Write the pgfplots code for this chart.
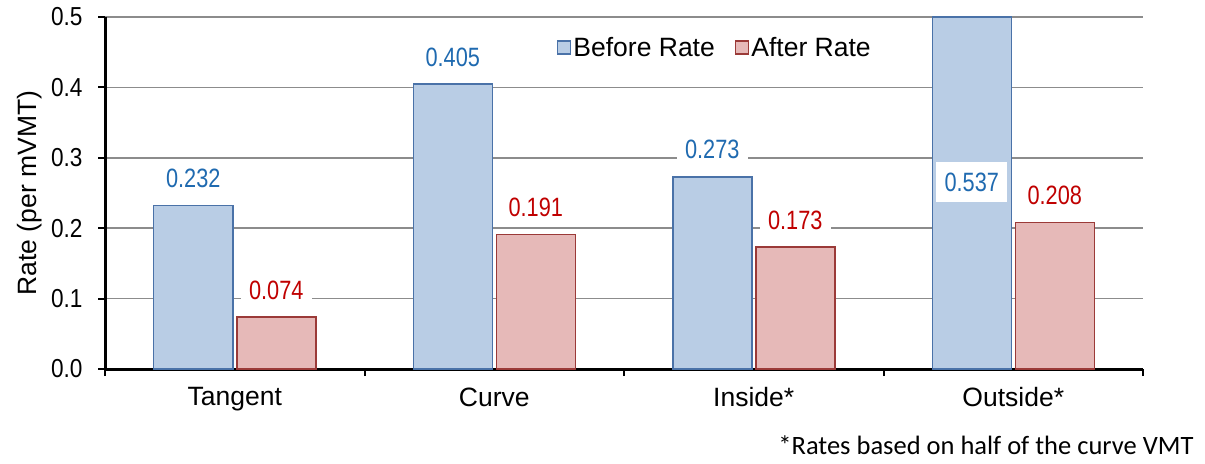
\documentclass[border=0pt]{standalone}
\usepackage{pgfplots}
\usepackage{pgfplotstable}
\pgfplotsset{compat=1.18}
\usepackage{fontspec}
\setmainfont{Liberation Sans}
\newfontfamily\calibri{Carlito}
\newfontfamily\dlfont[FakeStretch=0.82]{Liberation Sans}
\newfontfamily\tkfont[FakeStretch=0.87]{Liberation Sans}
\definecolor{bfill}{HTML}{B9CDE5}
\definecolor{bdraw}{HTML}{4A72A8}
\definecolor{rfill}{HTML}{E6B9B8}
\definecolor{rdraw}{HTML}{9B3A38}
\definecolor{blab}{HTML}{1F6AB0}
\definecolor{rlab}{HTML}{C00000}
\definecolor{gridc}{HTML}{8C8C8C}

\pgfplotstableread{
x before dy
0 0.232 27
1 0.405 27
2 0.273 27
3 0.537 -165
}\beforetab
\pgfplotstableread{
x after dy
0 0.074 27
1 0.191 27
2 0.173 27
3 0.208 27
}\aftertab

\begin{document}
\begin{tikzpicture}
\begin{axis}[name=ax, scale only axis, width=1038pt, height=352pt,
  ybar=4pt, bar width=79pt, clip=false,
  xmin=-0.5, xmax=3.5, ymin=0, ymax=0.5,
  restrict y to domain*=0:0.5,
  axis x line*=bottom, axis y line*=left,
  axis line style={line width=3pt, black},
  xtick={-0.5,0.5,1.5,2.5,3.5}, xticklabels={},
  extra x ticks={0,1,2,3},
  extra x tick labels={Tangent,Curve,Inside*,Outside*},
  extra x tick style={major tick length=0pt, grid=none},
  ytick={0,0.1,0.2,0.3,0.4,0.5},
  tick align=outside, major tick length=7pt,
  tick style={black, line width=2pt},
  ymajorgrids, grid style={gridc, line width=1.5pt},
  yticklabel style={font=\tkfont\fontsize{26}{30}\selectfont, xshift=-12pt, /pgf/number format/.cd, fixed, fixed zerofill, precision=1, assume math mode=true},
  xticklabel style={font=\fontsize{26.5}{30}\selectfont, yshift=-15pt},
  ylabel={Rate (per mVMT)},
  every axis y label/.style={at={(axis description cs:-0.0723,0.5)}, rotate=90, anchor=center, font=\fontsize{26.5}{30}\selectfont},
  legend style={at={(axis cs:1.85,0.457)}, anchor=center, draw=none, fill=none, legend columns=2,
    font=\fontsize{26.5}{30}\selectfont, /tikz/every even column/.append style={column sep=18pt}},
  legend image code/.code={\draw[#1, line width=1.5pt] (0pt,-6.5pt) rectangle (13pt,6.5pt);},
  visualization depends on={\thisrow{dy} \as \dy},
  nodes near coords={\pgfmathprintnumber[fixed, fixed zerofill, precision=3, assume math mode=true]{\pgfplotspointmeta}},
  nodes near coords style={anchor=center, yshift=\dy pt, fill=white, inner xsep=8.5pt, inner ysep=10.5pt, font=\dlfont\fontsize{26.5}{30}\selectfont},
]
\addplot[fill=bfill, draw=bdraw, line width=1.5pt, point meta=\thisrow{before}, nodes near coords style={text=blab}] table[x=x, y=before]{\beforetab};
\addplot[fill=rfill, draw=rdraw, line width=1.5pt, point meta=\thisrow{after}, nodes near coords style={text=rlab}] table[x=x, y=after]{\aftertab};
\legend{Before Rate, After Rate}
\end{axis}
\node[anchor=east, font=\calibri\fontsize{26.5}{30}\selectfont] at ([xshift=54pt,yshift=-76pt]ax.south east) {*Rates based on half of the curve VMT};
\pgfresetboundingbox
\path[use as bounding box] ([xshift=-105pt,yshift=-94pt]ax.south west) rectangle ([xshift=62pt,yshift=17pt]ax.north east);
\end{tikzpicture}
\end{document}
